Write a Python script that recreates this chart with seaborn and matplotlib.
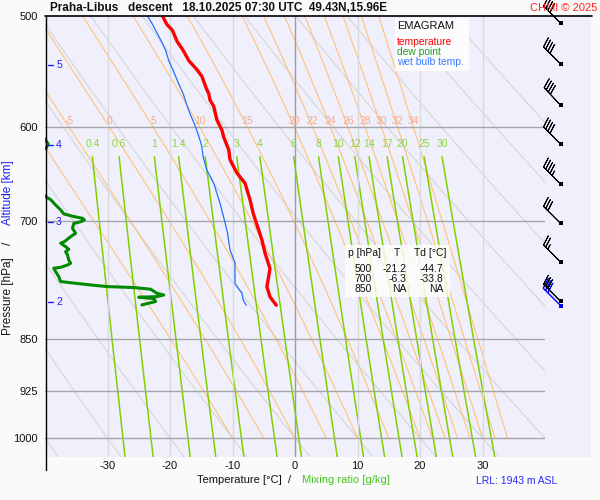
import numpy as np
import pandas as pd
import matplotlib
matplotlib.use('Agg')
import matplotlib.pyplot as plt
import seaborn as sns
from matplotlib.lines import Line2D
from matplotlib.patches import Rectangle
from matplotlib.transforms import blended_transform_factory

# ---------------- data ----------------
temp_p = [500, 507, 512, 521, 529, 538, 546, 552, 563, 568, 574, 580, 593, 603, 610,
          623, 633, 647, 658, 676, 691, 700, 722, 738, 757, 771, 780, 793, 804]
temp_t = [-21.2, -20.5, -19.6, -18.9, -17.9, -17.0, -15.7, -14.9, -14.2, -13.8, -13.6,
          -13.0, -12.5, -11.7, -11.4, -10.6, -10.4, -9.3, -8.0, -7.2, -6.7, -6.3, -5.3,
          -4.8, -4.0, -4.3, -4.5, -4.0, -3.0]

wb_p = [500, 506, 514, 522, 529, 538, 548, 559, 568, 577, 587, 600, 613, 620, 630,
        644, 658, 680, 699, 714, 734, 750, 776, 788, 797, 804]
wb_t = [-23.6, -22.9, -22.1, -21.3, -20.7, -20.2, -19.4, -18.6, -17.9, -17.4, -16.8,
        -15.9, -15.2, -14.9, -14.7, -14.1, -13.0, -12.0, -11.3, -10.8, -10.4, -9.6,
        -9.6, -8.5, -8.3, -7.8]

dew_p = [500, 560, 600, 608, 612, 617, 621, 625, 640, 660, 672.7, 676, 682, 687.5, 692,
         695, 697, 699, 701, 703, 708.6, 714.4, 718.4, 724.3, 726.2, 730.3, 733.4,
         736.3, 740.3, 746.5, 750.4, 752.6, 755.5, 756.6, 760.9, 767.1, 773.4, 777.7,
         779.8, 781, 783.1, 788.4, 790.6, 792.7, 793.5, 795.3, 799.1, 803.6]
dew_t = [-44.7, -43.5, -42.0, -41.0, -40.0, -39.5, -39.8, -41.0, -43.0, -42.0, -39.9,
         -39.1, -38.3, -37.5, -37.0, -35.4, -34.0, -33.7, -34.3, -35.4, -35.6, -35.1,
         -35.9, -36.9, -37.5, -36.7, -36.2, -36.7, -36.4, -36.2, -35.9, -36.4, -37.5,
         -38.6, -38.3, -37.8, -37.5, -32.7, -30.0, -25.8, -23.1, -22.1, -21.0, -22.1,
         -25.0, -22.6, -22.3, -24.5]

theta_w_labels = [-5, 0, 5, 10, 15, 20, 22, 24, 26, 28, 30, 32, 34]
theta_w_all = [-10] + theta_w_labels
mix_ratios = [0.4, 0.6, 1, 1.4, 2, 3, 4, 6, 8, 10, 12, 14, 17, 20, 25, 30]
mix_labels = ['0.4', '0.6', '1', '1.4', '2', '3', '4', '6', '8', '10', '12', '14',
              '17', '20', '25', '30']
dry_t1000 = list(range(-80, 100, 10))

pressure_ticks = [500, 600, 700, 850, 925, 1000]
temp_ticks = [-30, -20, -10, 0, 10, 20, 30]

alt_km = [2, 3, 4, 5]
alt_p = [800, 701, 618, 542]

barb_p = [506, 541, 579, 617, 659, 703, 749, 799]
barb_spd = [40, 40, 40, 40, 45, 30, 25, 30]
barb_dir = [315, 315, 317, 315, 315, 315, 315, 315]
barb_low_p = [805.5]
barb_low_spd = [30]
barb_low_dir = [315]

table_p = ['500', '700', '850']
table_T = ['-21.2', '-6.3', 'NA']
table_Td = ['-44.7', '-33.8', 'NA']

# ---------------- style ----------------
sns.set_theme(style='white')
plt.rcParams['font.family'] = ['Liberation Sans', 'DejaVu Sans']

W, H = 600, 500
fx = lambda x: x / W
fy = lambda y: 1 - y / H

fig = plt.figure(figsize=(6, 5), dpi=100, facecolor='#fafafa')
ax = fig.add_axes([fx(45), fy(457), 500 / W, 441 / H])
ax2 = fig.add_axes([fx(545), fy(457), 46 / W, 441 / H])
BG = '#f0f0fd'
P_BOTTOM = 1031.6
for a in (ax, ax2):
    a.set_facecolor(BG)
    a.set_yscale('log')
    a.set_ylim(P_BOTTOM, 500)
    for s in a.spines.values():
        s.set_visible(False)
    a.minorticks_off()
ax.set_xlim(-40, 40)
ax2.set_xlim(0, 1)
ax2.set_xticks([])
ax2.set_yticks([])

# ---------------- thermodynamic background ----------------
Rd, cp, Lv, eps = 287.04, 1005.7, 2.501e6, 0.622


def es(tc):
    return 6.112 * np.exp(17.67 * tc / (tc + 243.5))


def dTdp(T, p):
    tc = T - 273.15
    e = es(tc)
    rs = eps * e / (p - e)
    return (Rd * T + Lv * rs) / (p * (cp + Lv * Lv * rs * eps / (Rd * T * T)))


def moist_adiabat(t0):
    ps = np.arange(1000.0, 499.0, -2.0)
    T = np.empty_like(ps)
    T[0] = t0 + 273.15
    for i in range(1, len(ps)):
        dp = ps[i] - ps[i - 1]
        k1 = dTdp(T[i - 1], ps[i - 1])
        k2 = dTdp(T[i - 1] + k1 * dp / 2, ps[i - 1] + dp / 2)
        T[i] = T[i - 1] + k2 * dp
    return ps, T - 273.15


pp = np.linspace(480, 1050, 200)
for t0 in dry_t1000:
    T = (t0 + 273.15) * (pp / 1000.0) ** 0.2857 - 273.15
    ax.plot(T, pp, color='#d8d8d8', lw=0.9, zorder=1)

ORANGE = '#ffc27a'
for tw in theta_w_all:
    ps, T = moist_adiabat(tw)
    ax.plot(T, ps, color=ORANGE, lw=0.8, zorder=1.2)
    if tw in theta_w_labels:
        t600 = np.interp(600, ps[::-1], T[::-1])
        ax.text(t600, 594, str(tw), color='#f7a98e', fontsize=7.5,
                ha='center', va='center', zorder=3)

GREEN_L = '#80d000'
pm = np.linspace(630, 1045, 120)
for w, lab in zip(mix_ratios, mix_labels):
    e = w * pm / (622.0 + w)
    lg = np.log(e / 6.112)
    Td = 243.5 * lg / (17.67 - lg)
    ax.plot(Td, pm, color=GREEN_L, lw=1.1, zorder=1.4)
    ax.text(Td[0], 616.5, lab, color='#8ed53c', fontsize=7.5,
            ha='center', va='center', zorder=3)

# grid
for t in temp_ticks:
    ax.axvline(t, color='#9c9c9c' if t == 0 else '#d9d9d9', lw=1.0, zorder=1.6)
for p in pressure_ticks[1:]:
    ax.axhline(p, color='#a6a6a6', lw=1.0, zorder=1.7)

# ---------------- profiles ----------------
sns.lineplot(x=wb_t, y=wb_p, sort=False, estimator=None, color='#1f6fff',
             lw=0.9, ax=ax, zorder=5)
sns.lineplot(x=dew_t, y=dew_p, sort=False, estimator=None, color='#008a00',
             lw=2.2, ax=ax, zorder=6)
sns.lineplot(x=temp_t, y=temp_p, sort=False, estimator=None, color='#ff0000',
             lw=2.4, ax=ax, zorder=7)

# ---------------- axes ticks ----------------
ax.set_yticks(pressure_ticks)
ax.set_yticklabels([str(p) for p in pressure_ticks])
ax.set_xticks(temp_ticks)
ax.set_xticklabels([str(t) for t in temp_ticks])
ax.tick_params(axis='y', length=0, pad=5, labelsize=8, labelcolor='#111111')
ax.tick_params(axis='x', length=0, pad=3, labelsize=8, labelcolor='#111111')
ax.set_xlabel('')
ax.set_ylabel('')
ax.minorticks_off()

# altitude ticks
tr = blended_transform_factory(ax.transAxes, ax.transData)
for km, p in zip(alt_km, alt_p):
    ax.plot([0.006, 0.016], [p, p], transform=tr, color='#2020ee', lw=1.0, zorder=8)
    ax.text(0.028, p, str(km), transform=tr, color='#2020ee', fontsize=7.5,
            ha='center', va='center', zorder=8)

# ---------------- wind barbs ----------------
bd = np.deg2rad(np.array(barb_dir))
bs = np.array(barb_spd, dtype=float)
u = -bs * np.sin(bd)
v = -bs * np.cos(bd)
bx = np.full(len(barb_p), 0.34)
bdl = np.deg2rad(np.array(barb_low_dir))
bsl = np.array(barb_low_spd, dtype=float)
ax2.barbs([0.34], barb_low_p, -bsl * np.sin(bdl), -bsl * np.cos(bdl),
          length=6.1, color='#0000ff', lw=0.7, zorder=4, clip_on=False)
ax2.scatter([0.34], barb_low_p, marker='s', s=9, color='#0000ff', zorder=5,
            clip_on=False, linewidths=0)
ax2.barbs(bx, barb_p, u, v, length=5.9, color='black', lw=0.7, zorder=5, clip_on=False)
ax2.scatter(bx, barb_p, marker='s', s=9, color='black', zorder=6, clip_on=False,
            linewidths=0)

# ---------------- frame lines ----------------
fig.add_artist(Line2D([fx(45.5), fx(45.5)], [fy(470), fy(16)], color='black', lw=1.0,
                      transform=fig.transFigure, zorder=5))
fig.add_artist(Line2D([fx(45), fx(592)], [fy(16), fy(16)], color='black', lw=1.2,
                      transform=fig.transFigure, zorder=5))

# ---------------- texts ----------------
fig.text(fx(50), fy(8), 'Praha-Libus   descent   18.10.2025 07:30 UTC  49.43N,15.96E',
         ha='left', va='center', fontsize=8.5, fontweight='bold', color='#111111')
fig.text(fx(597), fy(8), 'CHMI © 2025', ha='right', va='center', fontsize=8,
         color='#ff2020', zorder=10)

# legend box
fig.add_artist(Rectangle((fx(395), fy(71)), 74 / W, 53 / H, transform=fig.transFigure,
                         facecolor='white', edgecolor='none', alpha=0.85, zorder=2))
fig.text(fx(397), fy(26), 'EMAGRAM', ha='left', va='center', fontsize=8, color='#111111')
fig.text(fx(397), fy(42.3), 'temperature', ha='left', va='center', fontsize=7.4, color='#ff0000')
fig.text(fx(397), fy(51.7), 'dew point', ha='left', va='center', fontsize=7.4, color='#1e9e1e')
fig.text(fx(397), fy(61.7), 'wet bulb temp.', ha='left', va='center', fontsize=7.4, color='#3a7cff')

# table box
fig.add_artist(Rectangle((fx(345), fy(297)), 105 / W, 52 / H, transform=fig.transFigure,
                         facecolor='white', edgecolor='none', alpha=0.8, zorder=2))
fig.text(fx(348), fy(252.7), 'p [hPa]', ha='left', va='center', fontsize=7.5, color='#111111')
fig.text(fx(396.7), fy(252.7), 'T', ha='center', va='center', fontsize=7.5, color='#111111')
fig.text(fx(447), fy(252.7), 'Td [°C]', ha='right', va='center', fontsize=7.5, color='#111111')
row_y = [268.7, 278.7, 288.7]
for yy, a_, b_, c_ in zip(row_y, table_p, table_T, table_Td):
    fig.text(fx(371.7), fy(yy), a_, ha='right', va='center', fontsize=7.5, color='#111111')
    fig.text(fx(406.7), fy(yy), b_, ha='right', va='center', fontsize=7.5, color='#111111')
    fig.text(fx(443), fy(yy), c_, ha='right', va='center', fontsize=7.5, color='#111111')

# axis labels
fig.text(fx(8), fy(335), 'Pressure [hPa]', rotation=90, ha='center', va='bottom',
         fontsize=8.5, color='#111111')
fig.text(fx(8), fy(243), '/', rotation=90, ha='center', va='center',
         fontsize=8.5, color='#111111')
fig.text(fx(8), fy(160), 'Altitude [km]', rotation=90, ha='center', va='top',
         fontsize=8.5, color='#2020ee')
fig.text(fx(291), fy(480), 'Temperature [°C]  /', ha='right', va='center',
         fontsize=8, color='#111111')
fig.text(fx(302), fy(480), 'Mixing ratio [g/kg]', ha='left', va='center',
         fontsize=8, color='#44c41c')
fig.text(fx(476), fy(481.5), 'LRL: 1943 m ASL', ha='left', va='center',
         fontsize=7.5, color='#2a2aff')

fig.savefig('out.png', dpi=100, facecolor=fig.get_facecolor())
